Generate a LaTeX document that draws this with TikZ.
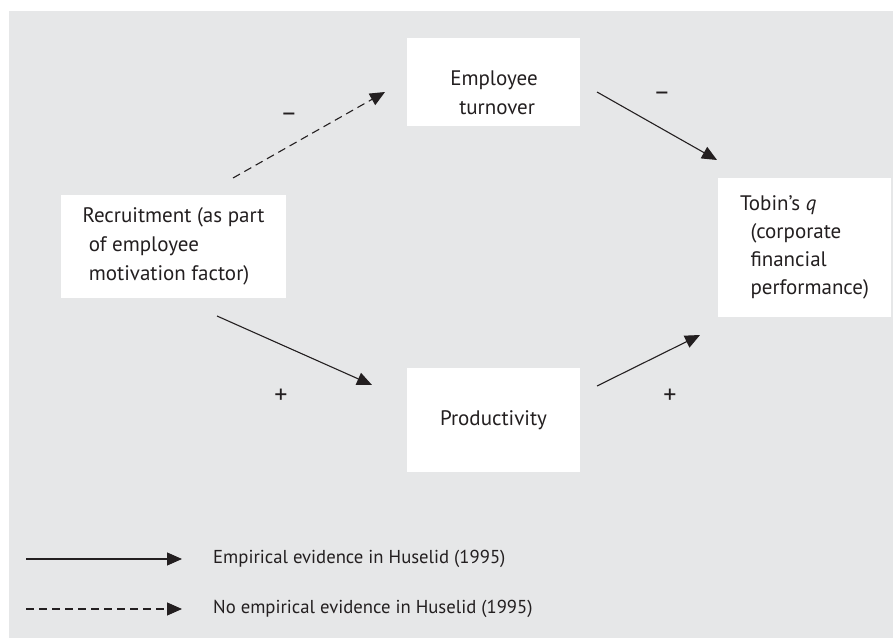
\documentclass[tikz,border=0pt]{standalone}
\usepackage{fontspec}
\setmainfont{PT Sans}
\usetikzlibrary{arrows.meta}
\definecolor{panel}{HTML}{E6E7E8}
\definecolor{ink}{HTML}{231F20}
\begin{document}
\begin{tikzpicture}[x=1pt,y=-1pt,
  every node/.style={text=ink},
  txt/.style={font=\fontsize{18.7}{29}\selectfont},
  boxtext/.style={font=\fontsize{21}{29}\selectfont, inner sep=0pt, align=left},
  box/.style={boxtext, fill=white, draw=none},
  sign/.style={font=\fontsize{26}{28}\selectfont, inner sep=0pt},
  link/.style={draw=ink, line width=1.1pt, -{Triangle[length=15pt,width=13pt]}},
  nolink/.style={link, dash pattern=on 8pt off 5pt}]
  % canvas and panel
  \useasboundingbox (0,0) rectangle (893,639);
  \fill[panel] (9,11) rectangle (893,638);

  % boxes
  \node[box, minimum width=225pt, minimum height=103pt] (rec) at (173.5,246.5)
    {Recruitment (as part\\\hspace*{0.3em}of employee\\\hspace*{0.3em}motivation factor)};
  \node[box, minimum width=173pt, minimum height=88pt] (turnbox) at (493.5,82) {};
  \node[boxtext, align=center] (turn) at (494,93) {Employee\\\hspace*{0.3em}turnover};
  \node[box, minimum width=173pt, minimum height=104pt] (prod) at (493.5,420)
    {Productivity};
  \node[box, font=\fontsize{21}{27.8}\selectfont, minimum width=173pt, minimum height=139pt] (tob) at (804.5,247.5)
    {Tobin's \textit{q}\\\hspace*{0.5em}(corporate\\\hspace*{0.5em}financial\\\hspace*{0.5em}performance)};

  % connector end points
  \coordinate (a1) at (233,178);  \coordinate (a2) at (385,92);
  \coordinate (b1) at (597,92);   \coordinate (b2) at (717,160);
  \coordinate (c1) at (217,316);  \coordinate (c2) at (372,385);
  \coordinate (d1) at (597,386);  \coordinate (d2) at (700,335);

  % connectors
  \draw[nolink] (a1) -- (a2);
  \draw[link] (b1) -- (b2);
  \draw[link] (c1) -- (c2);
  \draw[link] (d1) -- (d2);

  % signs
  \node[sign] (s1) at (289,117) {--};
  \node[sign] (s2) at (662,96) {--};
  \node[sign] (s3) at (281,396) {+};
  \node[sign] (s4) at (670,396) {+};

  % legend
  \coordinate (l1a) at (26,559);  \coordinate (l1b) at (182,559);
  \coordinate (l2a) at (26,609);  \coordinate (l2b) at (182,609);
  \draw[link] (l1a) -- (l1b);
  \draw[nolink] (l2a) -- (l2b);
  \node[txt, anchor=west, inner sep=0pt] (t1) at (213,559) {Empirical evidence in Huselid (1995)};
  \node[txt, anchor=west, inner sep=0pt] (t2) at (213,609) {No empirical evidence in Huselid (1995)};
\end{tikzpicture}
\end{document}
